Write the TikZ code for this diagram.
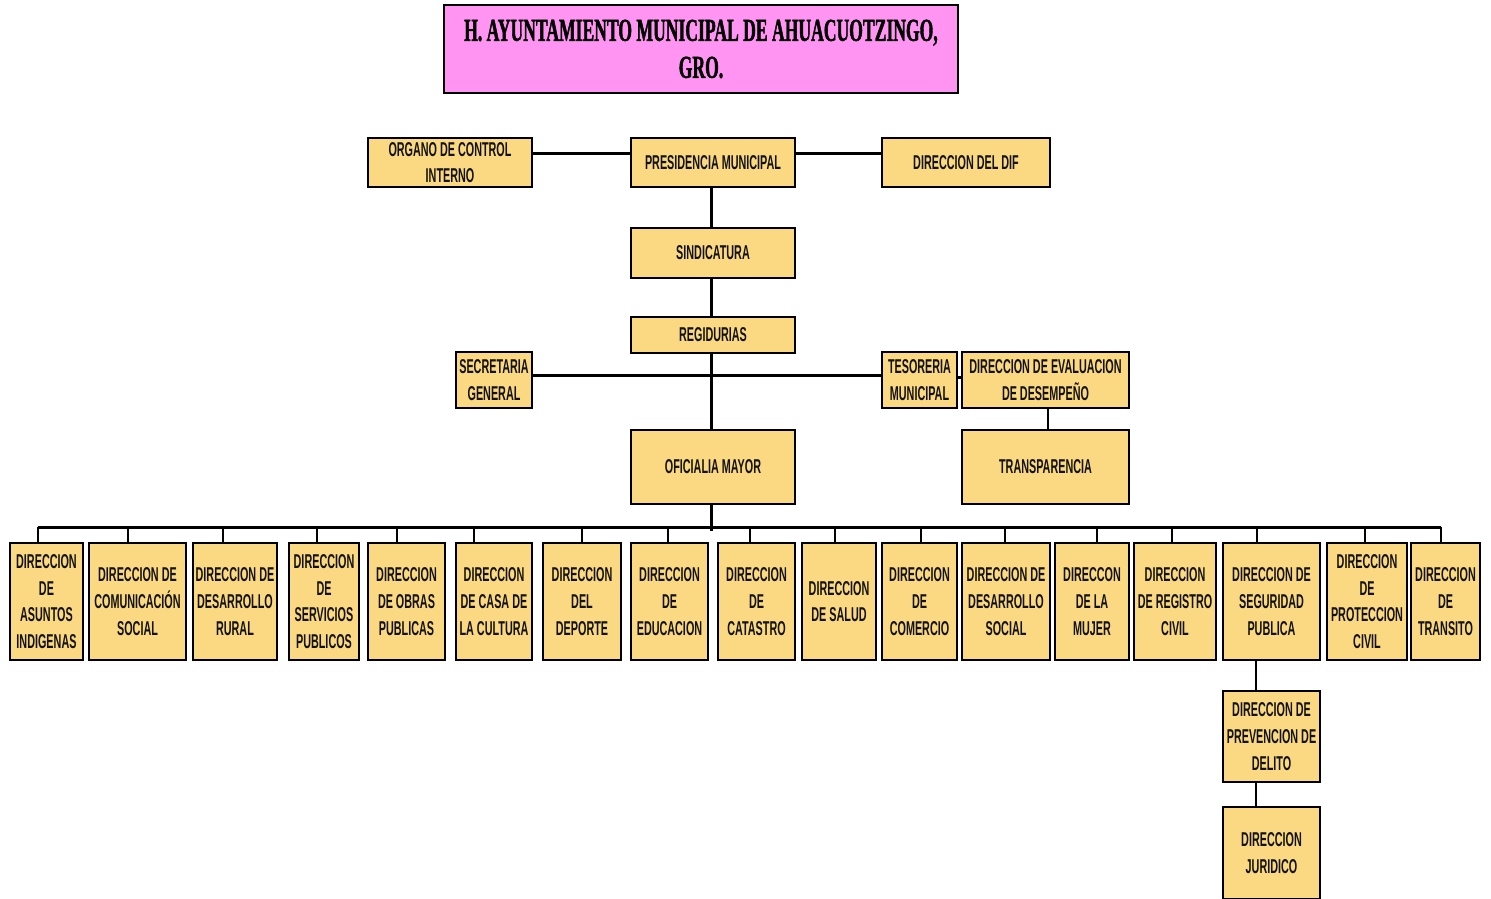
\documentclass[tikz,border=0pt]{standalone}
\usepackage{fontspec}
\newfontfamily\boxfont[FakeStretch=0.54]{Liberation Sans}
\newfontfamily\titlefont[FakeStretch=0.55,FakeBold=1.2]{Liberation Serif}
\definecolor{boxfill}{RGB}{250,217,130}
\definecolor{titlefill}{RGB}{255,148,242}
\definecolor{txt}{RGB}{20,18,15}
\tikzset{
  orgbox/.style={draw=black, fill=boxfill, line width=2.4pt, inner sep=0pt, align=center,
    text=txt, font=\boxfont\bfseries\fontsize{20}{26.7}\selectfont},
  titlebox/.style={draw=black, fill=titlefill, line width=2.4pt, inner sep=0pt, align=center,
    text=black, font=\titlefont\bfseries\fontsize{32}{37}\selectfont},
  link/.style={line width=3pt, black},
  tick/.style={line width=2pt, black}
}
\begin{document}
\begin{tikzpicture}[x=1pt, y=-1pt]
\useasboundingbox (0,0) rectangle (1491,899);
% title
\node[titlebox, minimum width=514pt, minimum height=88pt] (title) at (701,49) {H. AYUNTAMIENTO MUNICIPAL DE AHUACUOTZINGO,\\GRO.};
% upper structure
\node[orgbox, minimum width=164pt, minimum height=49pt] (organo) at (450,162.5) {ORGANO DE CONTROL\\INTERNO};
\node[orgbox, minimum width=164pt, minimum height=49pt] (pres) at (713,162.5) {PRESIDENCIA MUNICIPAL};
\node[orgbox, minimum width=168pt, minimum height=49pt] (dif) at (966,162.5) {DIRECCION DEL DIF};
\node[orgbox, minimum width=164pt, minimum height=50pt] (sind) at (713,253) {SINDICATURA};
\node[orgbox, minimum width=164pt, minimum height=36pt] (regid) at (713,335) {REGIDURIAS};
\node[orgbox, minimum width=76pt, minimum height=56pt] (secret) at (494,380) {SECRETARIA\\GENERAL};
\node[orgbox, minimum width=75pt, minimum height=56pt] (teso) at (919.5,380) {TESORERIA\\MUNICIPAL};
\node[orgbox, minimum width=167pt, minimum height=56pt] (eval) at (1045.5,380) {DIRECCION DE EVALUACION\\DE DESEMPEÑO};
\node[orgbox, minimum width=164pt, minimum height=74pt] (ofic) at (713,467) {OFICIALIA MAYOR};
\node[orgbox, minimum width=167pt, minimum height=74pt] (transp) at (1045.5,467) {TRANSPARENCIA};
% bottom row
\node[orgbox, minimum width=73pt, minimum height=117pt] (b1) at (46.5,601.5) {DIRECCION\\DE\\ASUNTOS\\INDIGENAS};
\node[orgbox, minimum width=97pt, minimum height=117pt] (b2) at (137.5,601.5) {DIRECCION DE\\COMUNICACIÓN\\SOCIAL};
\node[orgbox, minimum width=84pt, minimum height=117pt] (b3) at (235,601.5) {DIRECCION DE\\DESARROLLO\\RURAL};
\node[orgbox, minimum width=70pt, minimum height=117pt] (b4) at (324,601.5) {DIRECCION\\DE\\SERVICIOS\\PUBLICOS};
\node[orgbox, minimum width=77pt, minimum height=117pt] (b5) at (406.5,601.5) {DIRECCION\\DE OBRAS\\PUBLICAS};
\node[orgbox, minimum width=76pt, minimum height=117pt] (b6) at (494,601.5) {DIRECCION\\DE CASA DE\\LA CULTURA};
\node[orgbox, minimum width=78pt, minimum height=117pt] (b7) at (582,601.5) {DIRECCION\\DEL\\DEPORTE};
\node[orgbox, minimum width=77pt, minimum height=117pt] (b8) at (669.5,601.5) {DIRECCION\\DE\\EDUCACION};
\node[orgbox, minimum width=77pt, minimum height=117pt] (b9) at (756.5,601.5) {DIRECCION\\DE\\CATASTRO};
\node[orgbox, minimum width=74pt, minimum height=117pt] (b10) at (839,601.5) {DIRECCION\\DE SALUD};
\node[orgbox, minimum width=75pt, minimum height=117pt] (b11) at (919.5,601.5) {DIRECCION\\DE\\COMERCIO};
\node[orgbox, minimum width=88pt, minimum height=117pt] (b12) at (1006,601.5) {DIRECCION DE\\DESARROLLO\\SOCIAL};
\node[orgbox, minimum width=74pt, minimum height=117pt] (b13) at (1092,601.5) {DIRECCON\\DE LA\\MUJER};
\node[orgbox, minimum width=82pt, minimum height=117pt] (b14) at (1175,601.5) {DIRECCION\\DE REGISTRO\\CIVIL};
\node[orgbox, minimum width=97pt, minimum height=117pt] (b15) at (1271.5,601.5) {DIRECCION DE\\SEGURIDAD\\PUBLICA};
\node[orgbox, minimum width=80pt, minimum height=117pt] (b16) at (1367,601.5) {DIRECCION\\DE\\PROTECCION\\CIVIL};
\node[orgbox, minimum width=69pt, minimum height=117pt] (b17) at (1445.5,601.5) {DIRECCION\\DE\\TRANSITO};
\node[orgbox, minimum width=97pt, minimum height=91pt] (prev) at (1271.5,736.5) {DIRECCION DE\\PREVENCION DE\\DELITO};
\node[orgbox, minimum width=97pt, minimum height=92pt] (jur) at (1271.5,853) {DIRECCION\\JURIDICO};
% connectors upper
\draw[link] ([yshift=9pt]organo.east) -- ([yshift=9pt]pres.west);
\draw[link] ([yshift=9pt]pres.east) -- ([yshift=9pt]dif.west);
\draw[link] ([xshift=-2pt]pres.south) -- ([xshift=-2pt]sind.north);
\draw[link] ([xshift=-2pt]sind.south) -- ([xshift=-2pt]regid.north);
\draw[link] ([xshift=-2pt]regid.south) -- ([xshift=-2pt]ofic.north);
\draw[link] ([yshift=5pt]secret.east) -- ([yshift=5pt]teso.west);
\draw[link] ([yshift=3pt]teso.east) -- ([yshift=3pt]eval.west);
\draw[tick] ([xshift=2.5pt]eval.south) -- ([xshift=2.5pt]transp.north);
% bus
\coordinate (busL) at (38,527);
\coordinate (busR) at (1441,527);
\coordinate (busM) at (711,531);
\draw[link] (busL) -- (busR);
\draw[link] ([xshift=-2pt]ofic.south) -- (busM);
\foreach \n/\x in {b1/38,b2/128,b3/223,b4/317,b5/397,b6/474,b7/582,b8/668,b9/750,b10/835,b11/921,b12/1005,b13/1097,b14/1172,b15/1257,b16/1365,b17/1441}{
  \coordinate (t\n) at (\x,527);
  \draw[tick] (t\n) -- (t\n |- \n.north);
}
\draw[tick] ([xshift=-15.5pt]b15.south) -- ([xshift=-15.5pt]prev.north);
\draw[tick] ([xshift=-15.5pt]prev.south) -- ([xshift=-15.5pt]jur.north);
\end{tikzpicture}
\end{document}
